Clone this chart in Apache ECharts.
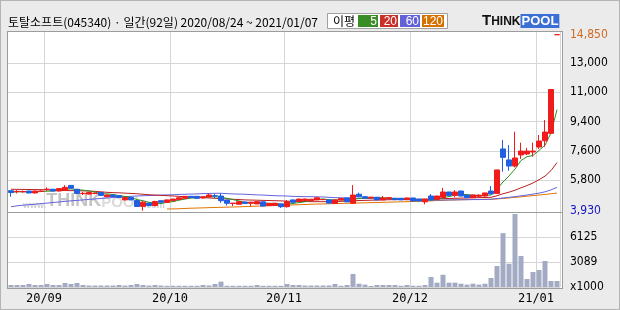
<!DOCTYPE html>
<html><head><meta charset="utf-8">
<script src="https://cdn.jsdelivr.net/npm/echarts/dist/echarts.min.js"></script>
<style>
html,body{margin:0;padding:0;}
body{width:620px;height:310px;background:#ebebeb;position:relative;overflow:hidden;}
#plotbg{position:absolute;left:8px;top:31px;width:554px;height:257px;background:#fff;}
#chart{position:absolute;left:0;top:0;width:620px;height:310px;}
#plotframe{position:absolute;left:7px;top:31px;width:556px;height:258px;box-sizing:border-box;border:1px solid #9c9c9c;pointer-events:none;}
#sep{position:absolute;left:8px;top:212px;width:554px;height:1px;background:#9c9c9c;pointer-events:none;}
#outer{position:absolute;left:0;top:0;width:620px;height:310px;box-sizing:border-box;border:1px solid #b4b4b4;pointer-events:none;}
</style></head>
<body>
<div id="plotbg"></div>
<div id="chart"></div>
<div id="plotframe"></div>
<div id="sep"></div>
<div id="outer"></div>
<script>
const dates = [
'2020-08-24','2020-08-25','2020-08-26','2020-08-27','2020-08-28','2020-08-31',
'2020-09-01','2020-09-02','2020-09-03','2020-09-04','2020-09-07','2020-09-08','2020-09-09','2020-09-10','2020-09-11','2020-09-14','2020-09-15','2020-09-16','2020-09-17','2020-09-18','2020-09-21','2020-09-22','2020-09-23','2020-09-24','2020-09-25','2020-09-28','2020-09-29',
'2020-10-05','2020-10-06','2020-10-07','2020-10-08','2020-10-12','2020-10-13','2020-10-14','2020-10-15','2020-10-16','2020-10-19','2020-10-20','2020-10-21','2020-10-22','2020-10-23','2020-10-26','2020-10-27','2020-10-28','2020-10-29','2020-10-30',
'2020-11-02','2020-11-03','2020-11-04','2020-11-05','2020-11-06','2020-11-09','2020-11-10','2020-11-11','2020-11-12','2020-11-13','2020-11-16','2020-11-17','2020-11-18','2020-11-19','2020-11-20','2020-11-23','2020-11-24','2020-11-25','2020-11-26','2020-11-27','2020-11-30',
'2020-12-01','2020-12-02','2020-12-03','2020-12-04','2020-12-07','2020-12-08','2020-12-09','2020-12-10','2020-12-11','2020-12-14','2020-12-15','2020-12-16','2020-12-17','2020-12-18','2020-12-21','2020-12-22','2020-12-23','2020-12-24','2020-12-28','2020-12-29','2020-12-30',
'2021-01-04','2021-01-05','2021-01-06','2021-01-07'];

const opens = [5170,5110,5100,5150,5030,5130,5250,5260,5150,5200,5500,5260,4990,4960,5000,5060,4800,4900,4850,4600,4750,4560,4200,4400,4250,4550,4450,4550,4620,4700,4820,4820,4720,4780,4860,4840,4590,4380,4330,4470,4390,4350,4480,4250,4260,4350,4180,4600,4520,4560,4560,4600,4620,4600,4380,4590,4720,4390,4950,4800,4720,4760,4600,4700,4700,4700,4610,4720,4650,4480,4840,4640,4760,5090,4880,5150,4900,4740,4820,4840,5150,5000,7760,7080,6700,7390,7450,7570,7880,8270,8730,14850];
const closes = [5060,5130,5120,5030,5150,5150,5260,5150,5300,5380,5330,5000,5010,5060,5010,4880,4900,4800,4750,4750,4600,4190,4460,4250,4500,4450,4600,4650,4730,4820,4750,4700,4800,4900,4840,4550,4390,4400,4490,4380,4460,4490,4220,4380,4390,4180,4490,4450,4650,4650,4640,4730,4620,4400,4600,4690,4480,4900,4800,4720,4770,4600,4720,4740,4610,4600,4720,4530,4530,4650,4590,4840,5090,4880,5090,4840,4740,4900,4880,5030,4970,6460,7240,6700,7200,7630,7630,7630,8250,8810,11450,14850];
const lows = [4800,5000,5050,5010,5000,5100,5150,5140,5120,5180,5300,4980,4900,4940,4950,4870,4780,4780,4730,4580,4580,4170,3930,4200,4200,4420,4430,4530,4600,4680,4730,4680,4700,4760,4700,4420,4250,4220,4320,4370,4200,4340,4200,4240,4250,4100,4120,4430,4500,4540,4540,4580,4600,4380,4350,4570,4460,4380,4760,4700,4700,4580,4590,4690,4600,4590,4600,4510,4510,4330,4580,4620,4740,4860,4760,4820,4720,4720,4760,4800,4960,4980,6350,6410,6620,7140,7390,7280,7760,7900,8700,14850];
const highs = [5190,5210,5180,5160,5170,5180,5380,5280,5320,5520,5520,5280,5100,5080,5060,5070,4920,4910,4860,4770,4760,4580,4520,4420,4550,4560,4620,4670,4750,4840,4830,4830,4820,4980,4960,5010,4600,4410,4500,4480,4470,4500,4490,4400,4400,4360,4590,4620,4680,4680,4660,4770,4640,4610,4620,4710,4730,5520,5050,4810,4790,4770,4840,4760,4710,4720,4740,4730,4660,4660,4960,4850,5340,5100,5210,5170,4910,4920,4960,5040,5460,6460,8320,8000,8830,8150,7820,8150,8630,9560,11450,14850];

// volume in thousands of shares
const volumes = [245,245,245,370,245,245,370,245,245,490,370,490,245,180,180,180,180,180,245,180,245,370,245,180,245,180,150,150,150,150,150,150,245,180,370,650,150,150,150,150,150,245,150,150,150,150,370,245,245,180,180,180,180,180,370,150,245,1600,400,290,120,245,245,245,245,150,245,150,150,245,1225,530,1500,530,530,400,290,400,290,400,1100,2570,6600,2850,8940,3800,980,1840,2080,3185,735,735];

const ma5 = [5080,5100,5110,5090,5098,5116,5142,5148,5202,5248,5284,5232,5204,5156,5082,4992,4972,4930,4868,4816,4760,4618,4550,4450,4400,4370,4452,4490,4586,4650,4710,4730,4760,4794,4798,4758,4696,4616,4534,4442,4424,4444,4408,4386,4388,4332,4332,4378,4432,4484,4576,4624,4658,4608,4598,4608,4558,4614,4694,4718,4734,4758,4722,4710,4688,4654,4678,4640,4598,4606,4604,4628,4740,4810,4898,4948,4928,4890,4890,4878,4904,5248,5716,6080,6514,7046,7280,7358,7668,7990,8754,10198];
const ma20 = [5260,5255,5250,5245,5240,5235,5230,5200,5190,5180,5175,5170,5160,5150,5130,5100,5070,5050,5040,5020,5000,4980,4950,4920,4900,4880,4860,4840,4820,4800,4780,4760,4740,4720,4700,4680,4660,4640,4620,4600,4590,4580,4570,4560,4550,4540,4520,4510,4500,4500,4490,4490,4490,4490,4500,4510,4520,4540,4560,4570,4580,4590,4600,4610,4620,4630,4640,4640,4640,4640,4640,4660,4680,4690,4700,4710,4720,4730,4740,4750,4760,4860,4980,5080,5200,5350,5490,5650,5850,6075,6420,6915];
const ma60 = [4177,4230,4270,4300,4330,4370,4400,4440,4470,4510,4540,4570,4600,4630,4660,4690,4720,4750,4780,4800,4820,4840,4860,4870,4880,4900,4910,4920,4940,4950,4960,4970,4990,5000,5010,5010,4990,4970,4960,4950,4930,4910,4900,4880,4860,4850,4840,4820,4810,4800,4800,4790,4780,4760,4740,4730,4720,4710,4700,4690,4680,4670,4660,4650,4640,4630,4620,4610,4600,4600,4590,4590,4590,4600,4600,4610,4610,4620,4620,4630,4640,4680,4720,4760,4800,4850,4900,4960,5020,5100,5220,5380];
const ma120 = [null,null,null,null,null,null,null,null,null,null,null,null,null,null,null,null,null,null,null,null,null,null,null,null,null,null,4035,4040,4050,4070,4085,4095,4105,4120,4130,4140,4150,4160,4170,4185,4200,4210,4220,4235,4250,4265,4280,4290,4300,4315,4330,4340,4350,4360,4370,4380,4390,4400,4410,4420,4430,4440,4450,4460,4470,4480,4490,4500,4510,4525,4540,4560,4575,4590,4600,4610,4620,4625,4630,4635,4640,4660,4690,4720,4760,4790,4830,4870,4900,4940,4980,5020];

const priceMaxLabel = 14850;
const priceMinLabel = 3930;
const priceGridLabels = ['5,800','7,600','9,400','11,000','13,000'];
const volumeTickLabels = ['x1000','3089','6125',''];
const monthTickDates = ['2020-09-01','2020-10-05','2020-11-02','2020-12-01','2021-01-04'];
const monthTickLabels = ['20/09','20/10','20/11','20/12','21/01'];

const titleText = '토탈소프트(045340) · 일간(92일) 2020/08/24 ~ 2021/01/07';
const maLegend = [['5','#3a8c26'],['20','#c83028'],['60','#6262d8'],['120','#d87000']];

const RED = '#f01c1c', BLUE = '#1f5fe0';
const axisFont = "'Liberation Sans Narrow','DejaVu Sans Condensed','Liberation Sans',sans-serif";
const fmt = v => String(v).replace(/\B(?=(\d{3})+(?!\d))/g, ',');
const monthSet = new Set(monthTickDates);

const candleData = dates.map((d, i) => [opens[i], closes[i], lows[i], highs[i]]);

const G = {left: 8, right: 60};
const priceMin = 3849, priceMax = 15079;

const legendEls = [
  {type:'rect', shape:{x:327.5,y:13.5,width:120,height:15}, style:{fill:'#fff', stroke:'#a0a0a0', lineWidth:1}},
  {type:'text', x:333, y:21.5, style:{text:'이평', font:'12px "Noto Sans CJK KR"', fill:'#000', verticalAlign:'middle'}}
];
const cellX = [358, 380, 400, 422], cellW = [20, 18, 20, 22];
maLegend.forEach((m, k) => {
  legendEls.push({type:'rect', shape:{x:cellX[k], y:15, width:cellW[k], height:12}, style:{fill:m[1]}});
  legendEls.push({type:'text', x:cellX[k]+cellW[k]-1, y:21.5, style:{text:m[0], font:'12px "Liberation Sans"', fill:'#fff', align:'right', verticalAlign:'middle'}});
});

const option = {
  animation: false,
  backgroundColor: 'transparent',
  grid: [
    {left:G.left, right:G.right, top:31, height:181},
    {left:G.left, right:G.right, top:212, height:75},
    {left:G.left, right:G.right, top:63, height:117}
  ],
  xAxis: [
    {type:'category', gridIndex:0, data:dates, boundaryGap:true,
     axisLine:{show:false}, axisTick:{show:false}, axisLabel:{show:false},
     splitLine:{show:true, interval:(i, v) => monthSet.has(dates[i]), lineStyle:{color:'#d6d6d6', width:1}}},
    {type:'category', gridIndex:1, data:dates, boundaryGap:true,
     axisLine:{show:false}, axisTick:{show:false},
     axisLabel:{show:true, interval:(i, v) => monthSet.has(v), formatter:v => monthTickLabels[monthTickDates.indexOf(v)],
       margin:6, padding:[0,6,0,0], fontFamily:"'DejaVu Sans Mono',monospace", fontSize:12, color:'#000'},
     splitLine:{show:true, interval:(i, v) => monthSet.has(dates[i]), lineStyle:{color:'#d6d6d6', width:1}}},
    {type:'value', gridIndex:2, show:false, min:0, max:1}
  ],
  yAxis: [
    {type:'value', gridIndex:0, position:'right', min:priceMin, max:priceMax, scale:true,
     axisLine:{show:false}, axisTick:{show:false}, splitLine:{show:false},
     axisLabel:{customValues:[priceMaxLabel], formatter:v => fmt(v), color:'#d2691e', margin:10, padding:[7,0,0,0], fontFamily:axisFont, fontSize:12}},
    {type:'value', gridIndex:0, position:'right', min:priceMin, max:priceMax, scale:true,
     axisLine:{show:false}, axisTick:{show:false}, splitLine:{show:false},
     axisLabel:{customValues:[priceMinLabel], formatter:v => fmt(v), color:'#1414c8', margin:10, padding:[0,0,8,0], fontFamily:axisFont, fontSize:12}},
    {type:'value', gridIndex:2, position:'right', min:0, max:4, interval:1,
     axisLine:{show:false}, axisTick:{show:false},
     splitLine:{show:true, lineStyle:{color:'#d6d6d6', width:1}},
     axisLabel:{formatter:(v, i) => priceGridLabels[i], color:'#000', margin:10, fontFamily:axisFont, fontSize:12}},
    {type:'value', gridIndex:1, position:'right', min:0, max:9187.5, interval:3062.5,
     axisLine:{show:false}, axisTick:{show:false},
     splitLine:{show:true, lineStyle:{color:'#d6d6d6', width:1}},
     axisLabel:{formatter:(v, i) => volumeTickLabels[i] || '', color:'#000', margin:10, fontFamily:axisFont, fontSize:12}}
  ],
  graphic: {elements: [
    {type:'text', x:8, y:22.5, style:{text:titleText, font:'12px "Noto Sans CJK KR"', fill:'#000', verticalAlign:'middle'}},
    ...legendEls,
    {type:'text', x:482, y:28, style:{text:'{t|T}{h|HINK}{p|POOL}', verticalAlign:'bottom',
      rich:{t:{font:'bold 15px "Liberation Sans"', fill:'#111', verticalAlign:'bottom'},
            h:{font:'bold 12px "Liberation Sans"', fill:'#111', verticalAlign:'bottom'},
            p:{font:'bold 13px "Liberation Sans"', fill:'#fff', backgroundColor:'#3a6fd8', padding:[1,1,0,1], verticalAlign:'bottom'}}}},
    {type:'text', x:23, y:210, z:1, style:{text:'{a|www.}{b|THINK}{c|POOL}{a|.com}', verticalAlign:'bottom',
      rich:{a:{font:'bold 9px "Liberation Sans"', fill:'#cfcfcf', verticalAlign:'bottom'},
            b:{font:'bold 18px "Liberation Sans"', fill:'#c4c4c4', verticalAlign:'bottom'},
            c:{font:'bold 15px "Liberation Sans"', fill:'#dadada', verticalAlign:'bottom'}}}}
  ]},
  series: [
    {type:'bar', name:'volume', xAxisIndex:1, yAxisIndex:3, data:volumes, barWidth:5, itemStyle:{color:'#a3abc4'}},
    {type:'line', name:'MA120', xAxisIndex:0, yAxisIndex:0, data:ma120, showSymbol:false, symbol:'none', lineStyle:{color:'#e07400', width:1}, z:2},
    {type:'line', name:'MA60', xAxisIndex:0, yAxisIndex:0, data:ma60, showSymbol:false, symbol:'none', lineStyle:{color:'#6464e0', width:1}, z:2},
    {type:'line', name:'MA20', xAxisIndex:0, yAxisIndex:0, data:ma20, showSymbol:false, symbol:'none', lineStyle:{color:'#b82020', width:1}, z:2},
    {type:'line', name:'MA5', xAxisIndex:0, yAxisIndex:0, data:ma5, showSymbol:false, symbol:'none', lineStyle:{color:'#2e8c20', width:1}, z:2},
    {type:'candlestick', name:'price', xAxisIndex:0, yAxisIndex:0, data:candleData, barWidth:5, z:3,
     itemStyle:{color:RED, color0:BLUE, borderColor:RED, borderColor0:BLUE, borderColorDoji:RED, borderWidth:1}}
  ]
};
const chart = echarts.init(document.getElementById('chart'), null, {renderer:'canvas'});
chart.setOption(option);
</script>
</body></html>
